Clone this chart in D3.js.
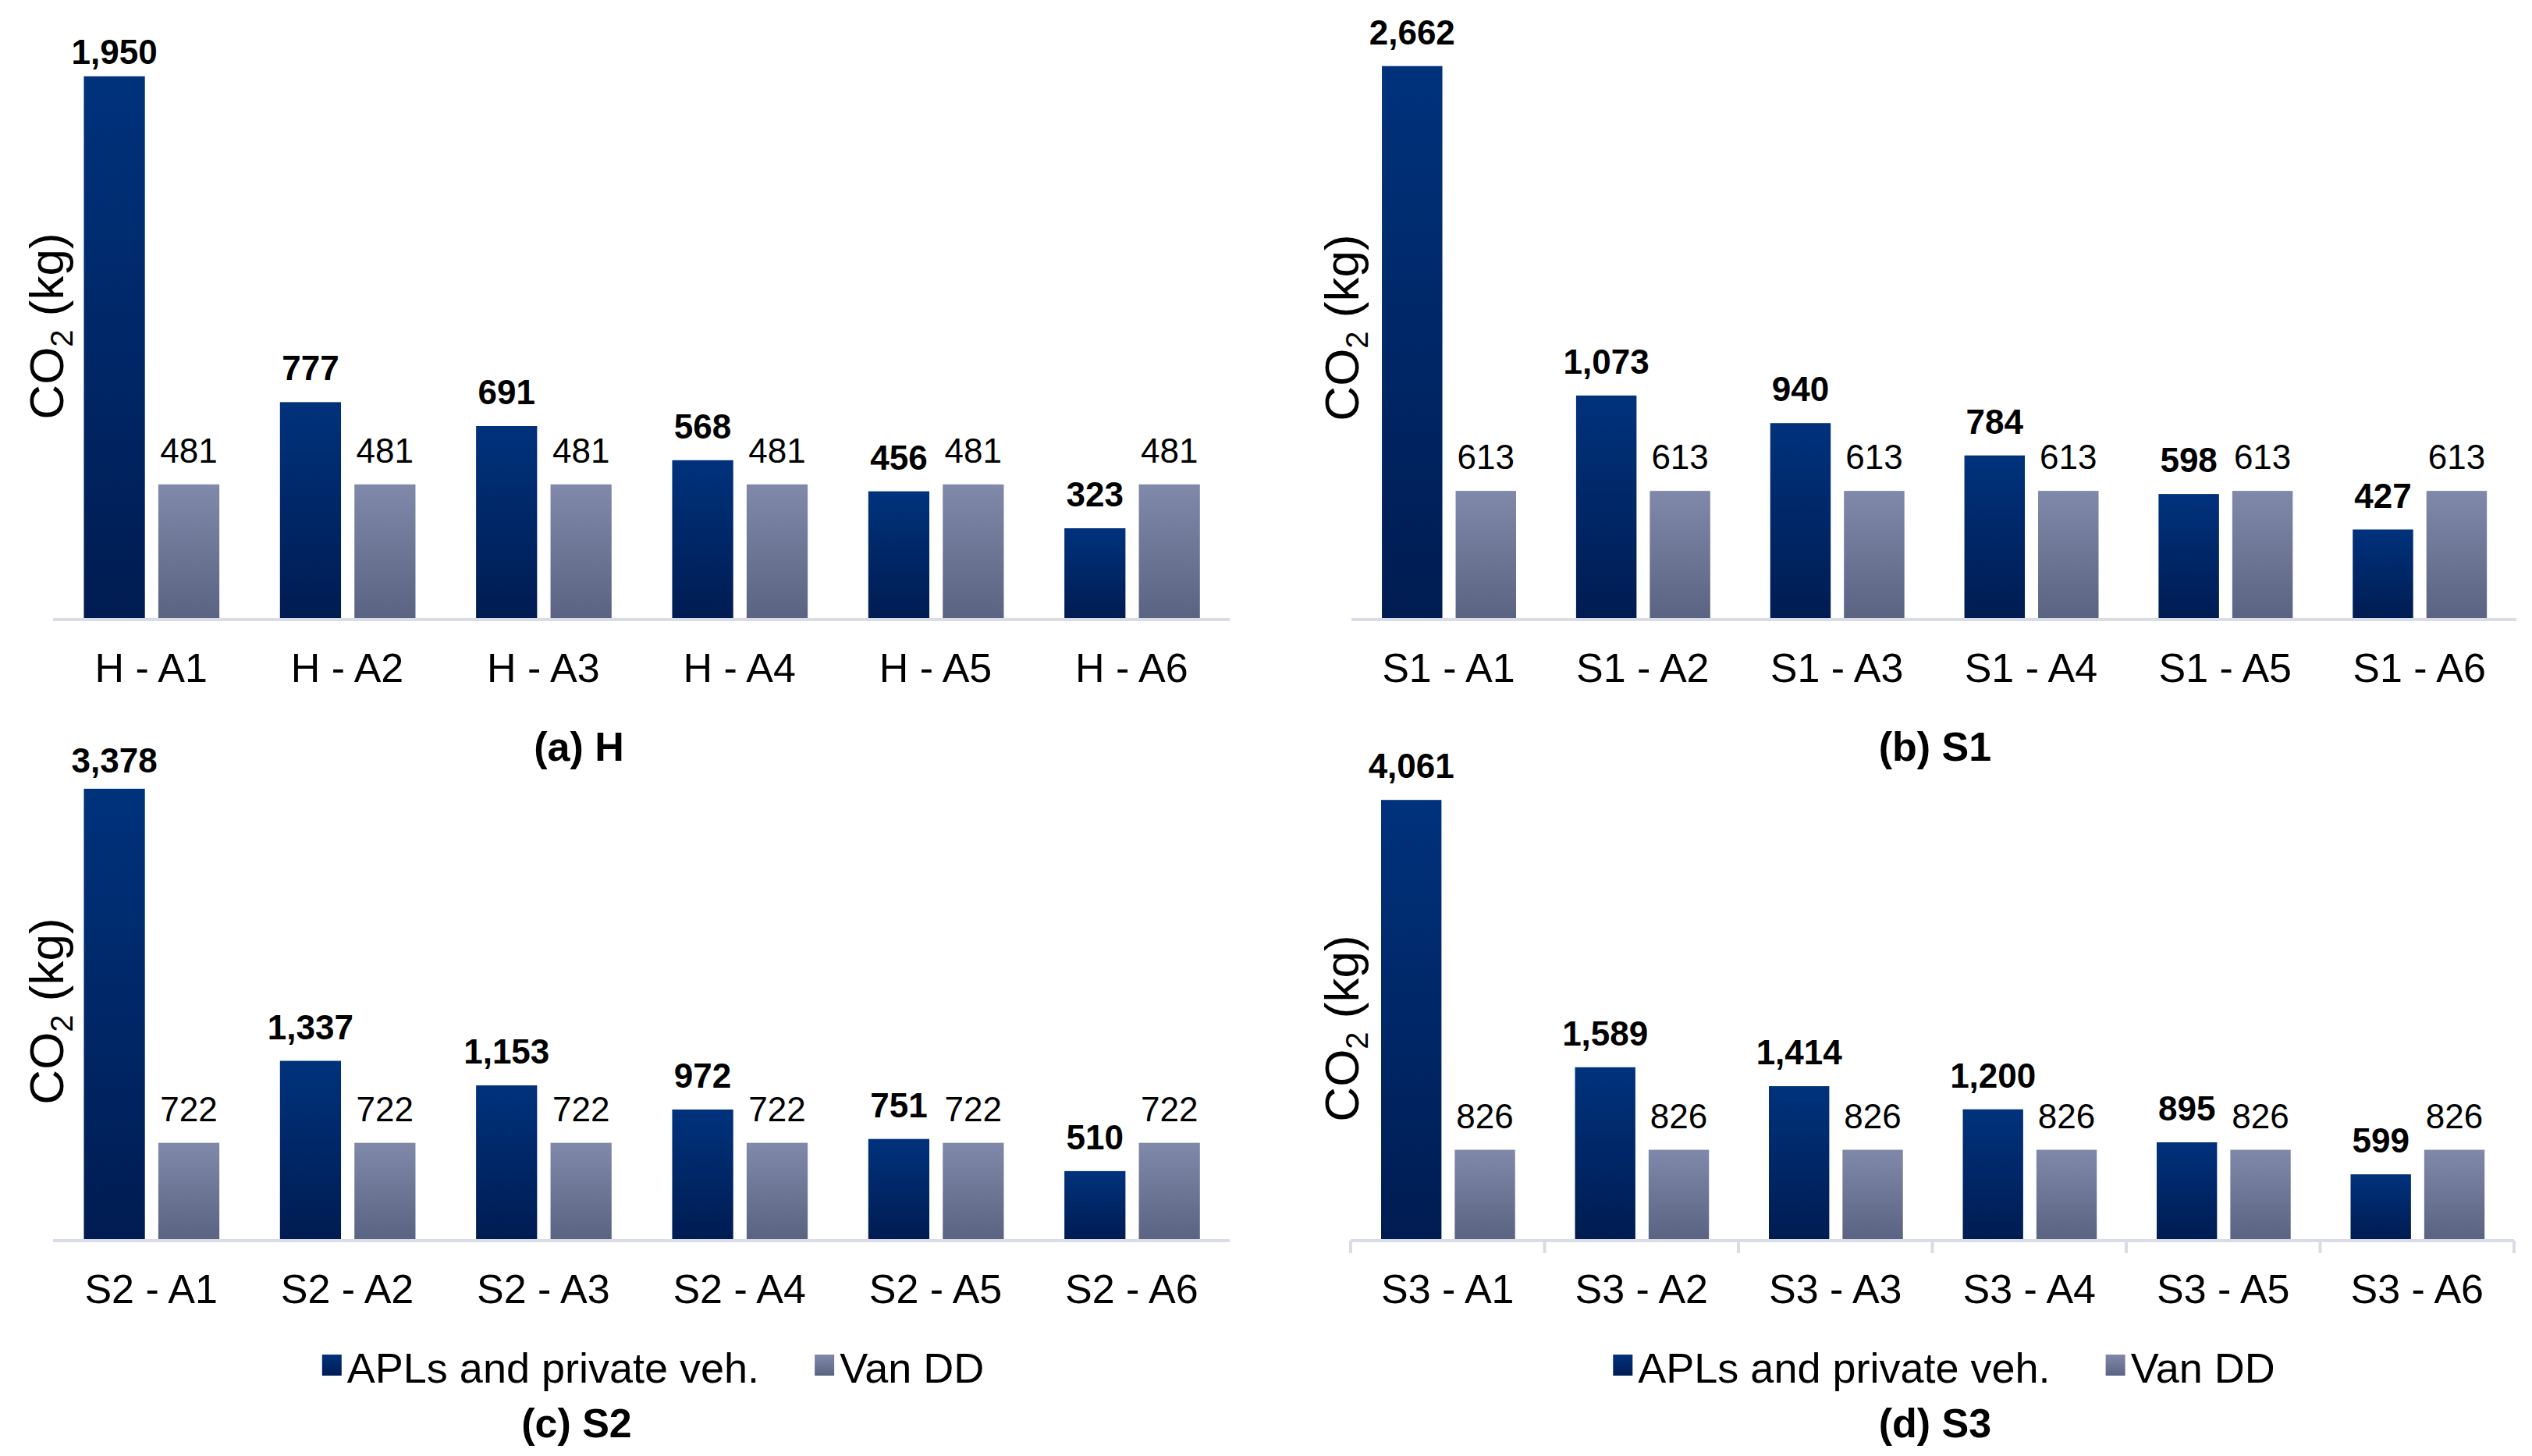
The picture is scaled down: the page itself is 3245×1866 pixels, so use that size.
<!DOCTYPE html>
<html>
<head>
<meta charset="utf-8">
<script src="https://cdn.jsdelivr.net/npm/d3@7"></script>
<style>
  body { margin: 0; background: #fff; }
  text { font-family: "Liberation Sans", Arial, sans-serif; fill: #000; }
</style>
</head>
<body>
<div id="myChart"></div>
<script>
// data
const seriesNames = ["APLs and private veh.", "Van DD"];

const catsH = ["H - A1", "H - A2", "H - A3", "H - A4", "H - A5", "H - A6"];
const aplsH = [1950, 777, 691, 568, 456, 323];
const vanH = [481, 481, 481, 481, 481, 481];

const catsS1 = ["S1 - A1", "S1 - A2", "S1 - A3", "S1 - A4", "S1 - A5", "S1 - A6"];
const aplsS1 = [2662, 1073, 940, 784, 598, 427];
const vanS1 = [613, 613, 613, 613, 613, 613];

const catsS2 = ["S2 - A1", "S2 - A2", "S2 - A3", "S2 - A4", "S2 - A5", "S2 - A6"];
const aplsS2 = [3378, 1337, 1153, 972, 751, 510];
const vanS2 = [722, 722, 722, 722, 722, 722];

const catsS3 = ["S3 - A1", "S3 - A2", "S3 - A3", "S3 - A4", "S3 - A5", "S3 - A6"];
const aplsS3 = [4061, 1589, 1414, 1200, 895, 599];
const vanS3 = [826, 826, 826, 826, 826, 826];

const captions = ["(a) H", "(b) S1", "(c) S2", "(d) S3"];

const W = 3245, H = 1866;

// layout of the four panels (pixels)
const panels = [
  { cats: catsH, apls: aplsH, van: vanH, caption: captions[0], yMax: 2000,
    x0: 68, x1: 1576, base: 792, plotH: 712, labelFloor: 82,
    titleX: 59, titleY: 418, capX: 742, capY: 975, legend: false, ticks: false },
  { cats: catsS1, apls: aplsS1, van: vanS1, caption: captions[1], yMax: 2800,
    x0: 1732, x1: 3225, base: 792, plotH: 744, labelFloor: 0,
    titleX: 1719, titleY: 420, capX: 2480, capY: 975, legend: false, ticks: false },
  { cats: catsS2, apls: aplsS2, van: vanS2, caption: captions[2], yMax: 3500,
    x0: 68, x1: 1576, base: 1588, plotH: 598, labelFloor: 990,
    titleX: 59, titleY: 1296, capX: 739, capY: 1842, legend: true, ticks: false },
  { cats: catsS3, apls: aplsS3, van: vanS3, caption: captions[3], yMax: 4250,
    x0: 1731, x1: 3222, base: 1588, plotH: 589, labelFloor: 0,
    titleX: 1719, titleY: 1318, capX: 2480, capY: 1842, legend: true, ticks: true },
];

const fmt = d3.format(",");

function createSvg() {
  const svg = d3
    .select("#myChart")
    .append("svg")
    .attr("width", W)
    .attr("height", H);

  svg.append("rect").attr("width", W).attr("height", H).attr("fill", "#fff");

  // gradient fills like the Excel bars
  const defs = svg.append("defs");
  const grads = [
    { id: "gradDark", top: "#00327c", bottom: "#001c52" },
    { id: "gradLight", top: "#8089a9", bottom: "#5a6381" },
  ];
  grads.forEach((g) => {
    const lg = defs
      .append("linearGradient")
      .attr("id", g.id)
      .attr("x1", 0).attr("y1", 0)
      .attr("x2", 0).attr("y2", 1);
    lg.append("stop").attr("offset", "0%").attr("stop-color", g.top);
    lg.append("stop").attr("offset", "100%").attr("stop-color", g.bottom);
  });
  return svg;
}

function drawPanel(svg, p) {
  const rows = p.cats.map((c, i) => ({ cat: c, values: [p.apls[i], p.van[i]] }));

  const x0 = d3.scaleBand().domain(p.cats).range([p.x0, p.x1]).padding(0);
  const bw = x0.bandwidth();
  const x1 = d3
    .scaleBand()
    .domain([0, 1])
    .range([bw * 0.157, bw * 0.848])
    .paddingInner(0.18)
    .paddingOuter(0);
  const y = d3.scaleLinear().domain([0, p.yMax]).range([p.base, p.base - p.plotH]);

  const g = svg.append("g");

  const groups = g
    .selectAll("g.cat")
    .data(rows)
    .join("g")
    .attr("class", "cat")
    .attr("transform", (d) => `translate(${x0(d.cat)},0)`);

  groups
    .selectAll("rect")
    .data((d) => d.values.map((v, k) => ({ v, k })))
    .join("rect")
    .attr("x", (d) => x1(d.k))
    .attr("width", x1.bandwidth())
    .attr("y", (d) => y(d.v))
    .attr("height", (d) => y(0) - y(d.v))
    .attr("fill", (d) => (d.k === 0 ? "url(#gradDark)" : "url(#gradLight)"));

  // value labels, bold for the first series
  groups
    .selectAll("text.val")
    .data((d) => d.values.map((v, k) => ({ v, k })))
    .join("text")
    .attr("class", "val")
    .attr("x", (d) => x1(d.k) + x1.bandwidth() / 2)
    .attr("y", (d) => Math.max(y(d.v) - 28, p.labelFloor))
    .attr("text-anchor", "middle")
    .style("font-size", "44px")
    .style("font-weight", (d) => (d.k === 0 ? "bold" : "normal"))
    .text((d) => fmt(d.v));

  // category axis
  const axis = g.append("g").attr("transform", `translate(0,${p.base + 2})`);
  axis
    .append("line")
    .attr("x1", p.x0)
    .attr("x2", p.x1)
    .attr("stroke", "#d9dce7")
    .attr("stroke-width", 4);

  if (p.ticks) {
    const edges = p.cats.map((c) => x0(c)).concat([p.x1]);
    axis
      .selectAll("line.tick")
      .data(edges)
      .join("line")
      .attr("class", "tick")
      .attr("x1", (d) => d)
      .attr("x2", (d) => d)
      .attr("y1", 0)
      .attr("y2", 16)
      .attr("stroke", "#d9dce7")
      .attr("stroke-width", 4);
  }

  axis
    .selectAll("text.cat")
    .data(p.cats)
    .join("text")
    .attr("class", "cat")
    .attr("x", (d) => x0(d) + bw / 2)
    .attr("y", 80)
    .attr("text-anchor", "middle")
    .style("font-size", "52px")
    .text((d) => d);

  // y title CO2 (kg)
  const t = g
    .append("text")
    .attr("transform", `translate(${p.titleX},${p.titleY}) rotate(-90)`)
    .attr("text-anchor", "middle")
    .attr("dy", "0.35em")
    .style("font-size", "62px");
  t.append("tspan").text("CO");
  t.append("tspan").attr("dy", 12).style("font-size", "40px").text("2");
  t.append("tspan").attr("dy", -12).text(" (kg)");

  // caption
  g.append("text")
    .attr("x", p.capX)
    .attr("y", p.capY)
    .attr("text-anchor", "middle")
    .style("font-size", "52px")
    .style("font-weight", "bold")
    .text(p.caption);

  if (p.legend) addLegend(g, p);
}

function addLegend(g, p) {
  const fills = ["url(#gradDark)", "url(#gradLight)"];
  const leg = g.append("g");
  let cx = 0;
  seriesNames.forEach((name, i) => {
    const item = leg.append("g").attr("transform", `translate(${cx},0)`);
    item
      .append("rect")
      .attr("x", 0)
      .attr("y", -36)
      .attr("width", 25)
      .attr("height", 27)
      .attr("fill", fills[i]);
    const txt = item
      .append("text")
      .attr("x", 32)
      .attr("y", 0)
      .style("font-size", "54px")
      .text(name);
    cx += 32 + txt.node().getComputedTextLength() + 71;
  });
  const total = cx - 71;
  const center = (p.x0 + p.x1) / 2 + 15;
  leg.attr("transform", `translate(${center - total / 2},1772)`);
}

const svg = createSvg();
panels.forEach((p) => drawPanel(svg, p));
</script>
</body>
</html>
